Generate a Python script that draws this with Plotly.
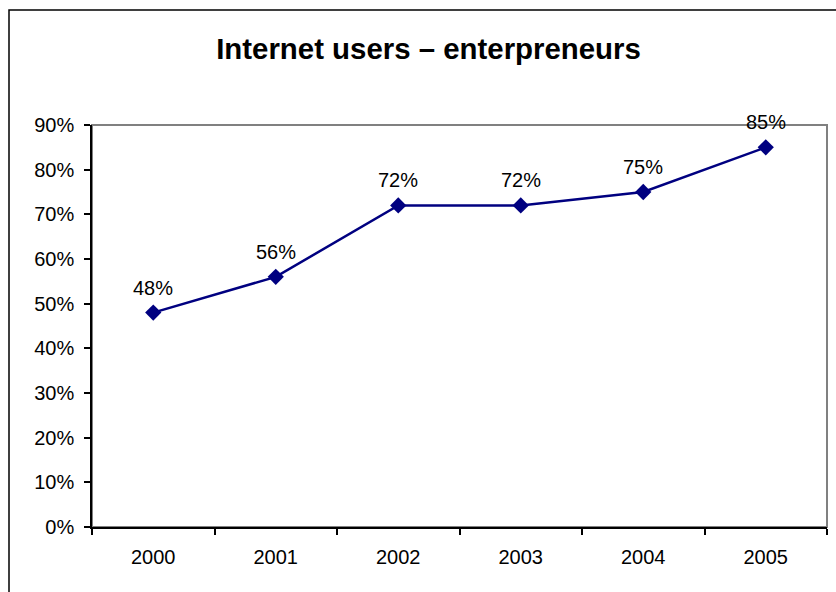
import plotly.graph_objects as go

years = ["2000", "2001", "2002", "2003", "2004", "2005"]
users = [0.48, 0.56, 0.72, 0.72, 0.75, 0.85]
labels = ["48%", "56%", "72%", "72%", "75%", "85%"]
title_text = "Internet users – enterpreneurs"

W, H = 836, 592
L, R, T, B = 92, 9, 125, 65
pw, ph = W - L - R, H - T - B

FONT = "Liberation Sans, Arial, sans-serif"

fig = go.Figure()
fig.add_trace(go.Scatter(
    x=years, y=users, mode="lines+markers",
    line=dict(color="#000080", width=2.5),
    marker=dict(symbol="diamond", size=12.5, color="#000080"),
    cliponaxis=False, showlegend=False, hoverinfo="skip",
))

# data labels: category index positions on the category axis
for i, (yv, lab) in enumerate(zip(users, labels)):
    fig.add_annotation(x=i, y=yv, xref="x", yref="y", text=lab, showarrow=False,
                       yshift=25, font=dict(family=FONT, size=20, color="black"))

# plot-area border (gray)
fig.add_shape(type="rect", xref="paper", yref="paper", x0=0, x1=1, y0=0, y1=1,
              line=dict(color="#808080", width=2), layer="below")
# outer chart border
fig.add_shape(type="rect", xref="paper", yref="paper",
              x0=(9 - L) / pw, x1=(W + 12 - L) / pw,
              y0=-(B + 20) / ph, y1=(ph + T - 10) / ph,
              line=dict(color="black", width=1.5), layer="below")

fig.update_layout(
    width=W, height=H,
    margin=dict(l=L, r=R, t=T, b=B, autoexpand=False),
    paper_bgcolor="white", plot_bgcolor="white",
    font=dict(family=FONT, size=20, color="black"),
    title=dict(text="<b>" + title_text + "</b>", x=428.5 / W, xanchor="center",
               y=1 - 49 / H, yanchor="middle", xref="container", yref="container",
               font=dict(family=FONT, size=29.4, color="black")),
    xaxis=dict(type="category", categoryarray=years, categoryorder="array",
               range=[-0.5, 5.5], tickson="boundaries",
               ticks="outside", ticklen=6, tickcolor="black", tickwidth=1.5,
               ticklabelstandoff=11,
               showline=True, linecolor="black", linewidth=1.5,
               showgrid=False, zeroline=False,
               tickfont=dict(family=FONT, size=20, color="black")),
    yaxis=dict(range=[0, 0.9], dtick=0.1, tickformat=".0%",
               ticks="outside", ticklen=6, tickcolor="black", tickwidth=1.5,
               ticklabelstandoff=6,
               showline=True, linecolor="black", linewidth=1.5,
               showgrid=False, zeroline=False,
               tickfont=dict(family=FONT, size=20, color="black")),
)

fig.write_html("out.html")
